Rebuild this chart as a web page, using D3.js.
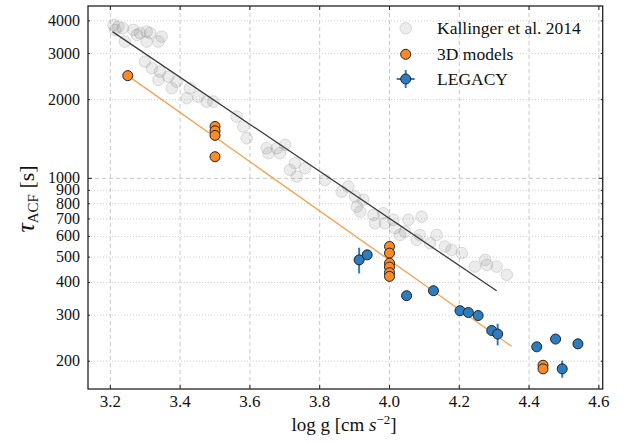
<!DOCTYPE html>
<html><head><meta charset="utf-8">
<script src="https://cdn.jsdelivr.net/npm/d3@7"></script>
<style>
body{margin:0;background:#fff;}
text{font-family:"Liberation Serif","DejaVu Serif",serif;fill:#111;}
</style></head>
<body><svg id="c" width="635" height="443"></svg>
<script>
// Kallinger et al. 2014 (log g, tau_ACF [s])
const kalX = [3.209,3.223,3.214,3.236,3.242,3.266,3.276,3.285,3.304,3.314,3.304,3.338,3.347,3.299,3.319,3.342,3.338,3.366,3.376,3.390,3.419,3.428,3.452,3.476,3.495,3.562,3.581,3.591,3.648,3.653,3.677,3.686,3.701,3.729,3.715,3.734,3.758,3.815,3.863,3.882,3.901,3.906,3.916,3.925,3.954,3.959,3.982,3.987,4.011,4.016,4.030,4.044,4.054,4.078,4.087,4.092,4.116,4.135,4.159,4.178,4.207,4.245,4.274,4.279,4.307,4.336];
const kalY = [3862,3804,3695,3751,3334,3695,3536,3589,3640,3589,3334,3334,3483,2795,2638,2560,2379,2449,2212,2344,2025,2212,2054,1966,1966,1723,1578,1424,1304,1248,1304,1248,1343,1143,1077,1016,1094,987,890,930,852,780,746,828,725,674,736,674,694,645,608,626,694,582,608,714,565,608,549,533,518,460,488,467,460,428];
// 3D models
const modX = [3.25,3.5,3.5,3.5,3.5,4.0,4.0,4.0,4.0,4.0,4.0,4.44,4.44];
const modY = [2470,1580,1520,1460,1210,549,518,474,458,436,422,193,187];
// LEGACY
const legX = [3.913,3.936,4.049,4.126,4.202,4.226,4.254,4.293,4.310,4.422,4.476,4.540,4.495];
const legY = [488,510,356,372,312,307,299,262,254,227,243,233,187];
const legErr = [55,0,0,0,0,0,0,0,24,0,0,0,14];
// fit lines
const kalFitX = [3.206,4.307], kalFitY = [3640,372];
const modFitX = [3.25,4.35], modFitY = [2470,228];
// ticks
const xTicks = [3.2,3.4,3.6,3.8,4.0,4.2,4.4,4.6];
const yMajor = [1000];
const yMinor = [200,300,400,500,600,700,800,900,2000,3000,4000];
const legendLabels = ["Kallinger et al. 2014","3D models","LEGACY"];

const L=88,R=602.7,T=6,B=389;
const x = d3.scaleLinear().domain([3.136,4.611]).range([L,R]);
const y = d3.scaleLog().domain([156.6,4560]).range([B,T]);
const svg = d3.select("#c");
const orange="#fd8a24", blue="#2c7dbf", orangeLine="#f9a04f";

// grid
const g = svg.append("g");
g.selectAll(".vg").data(xTicks).join("line")
 .attr("x1",d=>x(d)).attr("x2",d=>x(d)).attr("y1",T).attr("y2",B)
 .attr("stroke","#c8c8c8").attr("stroke-width",1).attr("stroke-dasharray","4,3");
g.selectAll(".hM").data(yMajor).join("line")
 .attr("x1",L).attr("x2",R).attr("y1",d=>y(d)).attr("y2",d=>y(d))
 .attr("stroke","#c8c8c8").attr("stroke-width",1).attr("stroke-dasharray","4,3");
g.selectAll(".hm").data(yMinor).join("line")
 .attr("x1",L).attr("x2",R).attr("y1",d=>y(d)).attr("y2",d=>y(d))
 .attr("stroke","#cfcfcf").attr("stroke-width",1).attr("stroke-dasharray","1,2");

// Kallinger
const kal = kalX.map((v,i)=>[v,kalY[i]]);
svg.append("g").selectAll("circle").data(kal).join("circle")
 .attr("cx",d=>x(d[0])).attr("cy",d=>y(d[1])).attr("r",5.8)
 .attr("fill","#808080").attr("fill-opacity",0.15)
 .attr("stroke","#808080").attr("stroke-opacity",0.25).attr("stroke-width",1);

const line = d3.line().x(d=>x(d[0])).y(d=>y(d[1]));
svg.append("path").attr("d",line(kalFitX.map((v,i)=>[v,kalFitY[i]])))
 .attr("stroke","#3a3a3a").attr("stroke-width",1.3).attr("fill","none");
svg.append("path").attr("d",line(modFitX.map((v,i)=>[v,modFitY[i]])))
 .attr("stroke",orangeLine).attr("stroke-width",1.3).attr("fill","none");

// 3D models
svg.append("g").selectAll("circle").data(modX.map((v,i)=>[v,modY[i]])).join("circle")
 .attr("cx",d=>x(d[0])).attr("cy",d=>y(d[1])).attr("r",5)
 .attr("fill",orange).attr("stroke","#222").attr("stroke-width",1);

// LEGACY
const leg = legX.map((v,i)=>[v,legY[i],legErr[i]]);
svg.append("g").selectAll("line").data(leg.filter(d=>d[2]>0)).join("line")
 .attr("x1",d=>x(d[0])).attr("x2",d=>x(d[0]))
 .attr("y1",d=>y(d[1]+d[2])).attr("y2",d=>y(d[1]-d[2]))
 .attr("stroke",blue).attr("stroke-width",2);
svg.append("g").selectAll("circle").data(leg).join("circle")
 .attr("cx",d=>x(d[0])).attr("cy",d=>y(d[1])).attr("r",5)
 .attr("fill",blue).attr("stroke","#222").attr("stroke-width",1);

// frame & ticks
svg.append("rect").attr("x",L).attr("y",T).attr("width",R-L).attr("height",B-T)
 .attr("fill","none").attr("stroke","#222").attr("stroke-width",1.3);
const tk = svg.append("g").attr("stroke","#222").attr("stroke-width",1);
xTicks.forEach(v=>{
  tk.append("line").attr("x1",x(v)).attr("x2",x(v)).attr("y1",B).attr("y2",B-4);
  tk.append("line").attr("x1",x(v)).attr("x2",x(v)).attr("y1",T).attr("y2",T+4);
});
yMajor.forEach(v=>{
  tk.append("line").attr("x1",L).attr("x2",L+4).attr("y1",y(v)).attr("y2",y(v));
  tk.append("line").attr("x1",R).attr("x2",R-4).attr("y1",y(v)).attr("y2",y(v));
});
yMinor.forEach(v=>{
  tk.append("line").attr("x1",L).attr("x2",L+2).attr("y1",y(v)).attr("y2",y(v));
  tk.append("line").attr("x1",R).attr("x2",R-2).attr("y1",y(v)).attr("y2",y(v));
});

// tick labels
svg.append("g").selectAll("text").data(xTicks).join("text")
 .attr("x",d=>x(d)).attr("y",407).attr("text-anchor","middle")
 .style("font-size","17px").text(d=>d.toFixed(1));
svg.append("g").selectAll("text").data(yMajor.concat(yMinor)).join("text")
 .attr("x",80).attr("y",d=>y(d)+5).attr("text-anchor","end")
 .style("font-size","16px").text(d=>d);

// axis labels
const xl = svg.append("text").attr("x",344).attr("y",431).attr("text-anchor","middle").style("font-size","19px");
xl.append("tspan").text("log g [cm ");
xl.append("tspan").style("font-style","italic").text("s");
xl.append("tspan").attr("dy",-7).style("font-size","13px").text("−2");
xl.append("tspan").attr("dy",7).text("]");

const yl = svg.append("text").attr("transform","translate(34,199) rotate(-90)").attr("text-anchor","middle").style("font-size","22px");
yl.append("tspan").style("font-style","italic").style("font-size","26px").text("τ");
yl.append("tspan").attr("dy",4).style("font-size","15px").text("ACF");
yl.append("tspan").attr("dy",-4).text(" [s]");

// legend
const ly = [28.3,54.3,79], lx=405.7;
svg.append("circle").attr("cx",lx).attr("cy",ly[0]).attr("r",5.8)
 .attr("fill","#808080").attr("fill-opacity",0.15).attr("stroke","#808080").attr("stroke-opacity",0.25);
svg.append("circle").attr("cx",lx).attr("cy",ly[1]).attr("r",5)
 .attr("fill",orange).attr("stroke","#222");
svg.append("line").attr("x1",lx-9).attr("x2",lx+9).attr("y1",ly[2]).attr("y2",ly[2]).attr("stroke",blue).attr("stroke-width",2);
svg.append("line").attr("x1",lx).attr("x2",lx).attr("y1",ly[2]-9).attr("y2",ly[2]+9).attr("stroke",blue).attr("stroke-width",2);
svg.append("circle").attr("cx",lx).attr("cy",ly[2]).attr("r",5)
 .attr("fill",blue).attr("stroke","#222");
svg.append("g").selectAll("text").data(legendLabels).join("text")
 .attr("x",437).attr("y",(d,i)=>ly[i]+6).style("font-size","17.5px").text(d=>d);
</script></body></html>
